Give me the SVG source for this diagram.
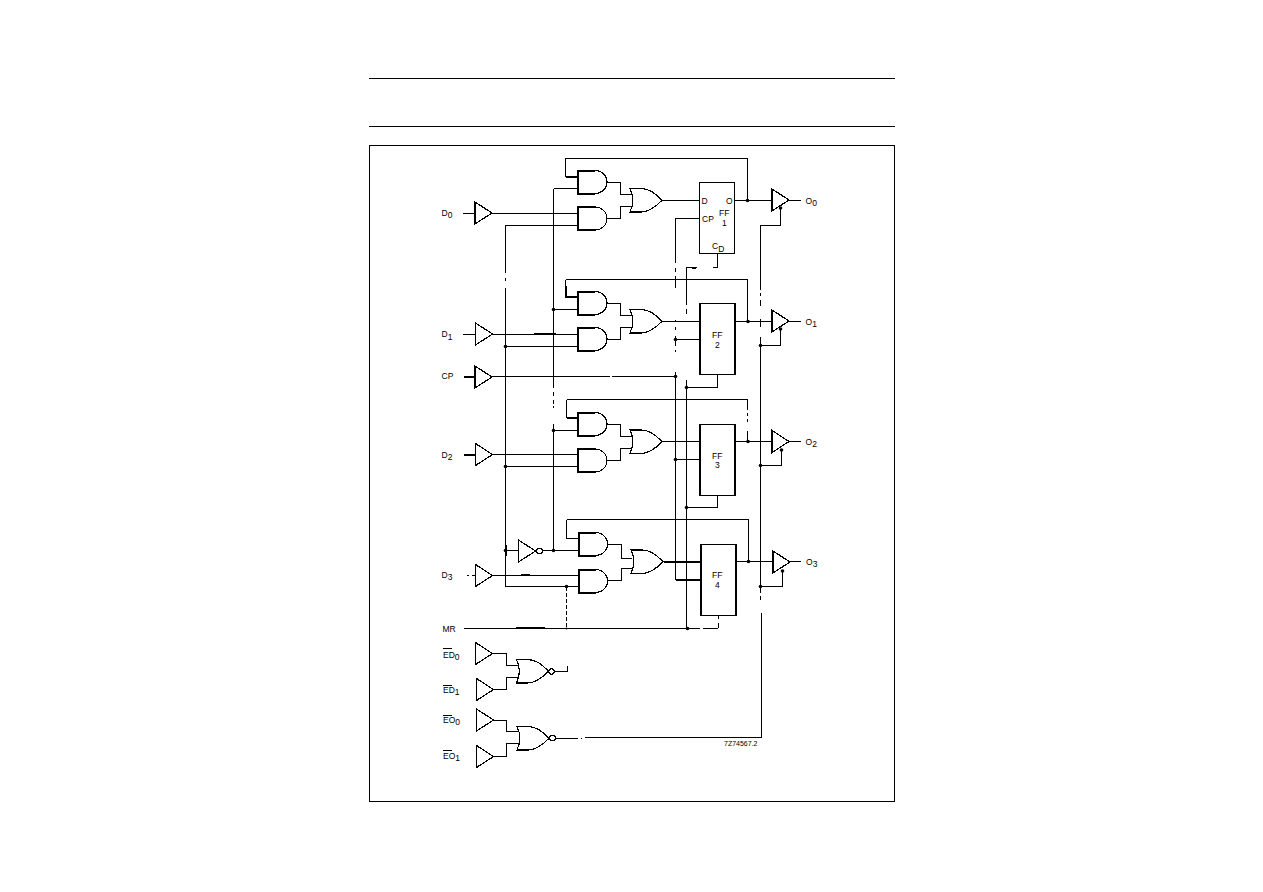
<svg xmlns="http://www.w3.org/2000/svg" xmlns:xlink="http://www.w3.org/1999/xlink" width="1263" height="892" viewBox="0 0 1263 892">
<style>
.s{fill:none;stroke:#000;stroke-width:1;shape-rendering:crispEdges}
.g{fill:#fff;stroke:#000;stroke-width:1.2;shape-rendering:crispEdges}
.f{fill:#fff;stroke:#000;stroke-width:1.6;shape-rendering:crispEdges}
.k{fill:none;stroke:#000;stroke-width:2;shape-rendering:crispEdges}
.d{fill:#000;stroke:none}
.h{stroke-dasharray:4 2}
text{font-family:"Liberation Sans",Arial,sans-serif;font-size:8.5px;fill:#000}
</style>
<defs>
<path id="and" d="M0 0H17A12 11.5 0 0 1 17 23H0Z"/>
<path id="andk" d="M0 0H17M0 0V23H17"/>
<path id="or" d="M0 0H11C19 0 26 5 32 11.8C26 18 19 23.5 11 23.5H0C3.5 16 3.5 7 0 0Z"/>
<polygon id="buf" points="0,0 17,11 0,22"/>
</defs>
<rect width="1263" height="892" fill="#fff"/>
<g id="page">
<path class="s" d="M369 78.5H895M369 126.5H895"/>
<rect class="s" x="369.5" y="145.5" width="525" height="656"/>
</g>
<g id="connectors">
<path class="s" d="M565.5 176.5V158.5H747.5V200.5M565.5 279.5H747.5V321.5M565.5 279.5V296.5M566.5 399.5H747.5V410M566.5 399.5V417.5M747.5 413V416M747.5 419V422M747.5 431V441.5M566.5 519.5H748.5V561.5M566.5 519.5V538.5H578"/>
<path class="k" d="M565.5 176.5H578M565.5 286V296.5H578M566.5 417.5H578"/>
<path class="s" d="M553.5 188.5H578M553.5 188.5V388M553.5 392V396M553.5 400V404M553.5 406V408M553.5 424V550M553.5 309.5H578M553.5 430.5H578"/>
<path class="s" d="M578 225.5H505.5V273M505.5 278V281M505.5 288V586.5H578M505.5 346.5H578M505.5 466.5H578M505.5 550.5H518"/>
<path class="k" d="M505.5 545V556"/>
<path class="s" d="M463 213.5H475M492 213.5H578M463 334.5H475M492 334H578M492 454.5H578M492 575.5H578M467 575.5H469M472 575.5H475M542 550.5H578"/>
<path class="k" d="M534 333.5H556M464 376.5H475M464 454.5H475M521 574.5H530"/>
<path class="s" d="M492 376.5H610M612 376H620M620 376.5H675.5"/>
<path class="s" d="M607 182H620V194H632M607 218H620V206.5H632M607 303H620V315H632M607 339H620V327.5H632M607 424H620V436H632M607 460H620V448H632M608 544H621V558H632M608 580H621V568H632"/>
<path class="s" d="M662 200.5H699M662 321.5H699M661 441.5H699"/>
<path class="k" d="M664 561.5H700"/>
<path class="s" d="M699 218.5H675.5V263M675.5 268V272M675.5 276V288M675.5 320V322M675.5 327V330M675.5 336V346M675.5 350V352M675.5 372V579.5"/>
<path class="k" d="M675.5 579.5H700"/>
<path class="s" d="M675.5 339.5H699M675.5 459.5H699"/>
<path class="s" d="M717.5 253V267H713M697 267.5H686.5V305M686.5 309V314M686.5 380V628M717.5 374V387.5H686.5M717.5 495V507.5H686.5M464 628.5H688M718 615V619M718 623V628M688 628H700M703 628H718"/>
<path class="k" d="M516 628H545M692 267.5H696"/>
<path class="s h" d="M566.5 587V628"/>
<path class="s" d="M734 200.5H772M789 200.5H801M735 321.5H772M789 321.5H801M735 441.5H772M789 441.5H801M736 561.5H773M790 561.5H801"/>
<path class="s" d="M780.5 208V225.5H760.5V290M760.5 293V296M760.5 300V306M760.5 319V327M760.5 337V593M760.5 596V600M761.5 613V737.5H585M581 738H582M575 738H578M556 738H575M760.5 345.5H780.5V328M760.5 465.5H781.5V450M760.5 586.5H782.5V572"/>
<path class="s" d="M493 653.5H506.5V665.5H518M493 689.5H506.5V677.5H518M555 671.5H567.5V666M493 720.5H506.5V731.5H519M493 756.5H506.5V743.5H519"/>
<g id="junctions">
<circle class="d" cx="747.5" cy="200.5" r="1.8"/><circle class="d" cx="553.5" cy="309.5" r="1.8"/><circle class="d" cx="505.5" cy="346.5" r="1.8"/>
<circle class="d" cx="748" cy="321.5" r="1.8"/><circle class="d" cx="675.5" cy="339.5" r="1.8"/><circle class="d" cx="675.5" cy="376.5" r="1.8"/>
<circle class="d" cx="686.5" cy="387.5" r="1.8"/><circle class="d" cx="760.5" cy="345.5" r="1.8"/><circle class="d" cx="553.5" cy="430.5" r="1.8"/>
<circle class="d" cx="505.5" cy="466.5" r="1.8"/><circle class="d" cx="675.5" cy="459.5" r="1.8"/><circle class="d" cx="748" cy="441.5" r="1.8"/>
<circle class="d" cx="760.5" cy="465.5" r="1.8"/><circle class="d" cx="686.5" cy="507.5" r="1.8"/><circle class="d" cx="505.5" cy="550.5" r="1.8"/>
<circle class="d" cx="553.5" cy="550.5" r="1.8"/><circle class="d" cx="566.5" cy="586.5" r="1.8"/><circle class="d" cx="748.5" cy="561.5" r="1.8"/>
<circle class="d" cx="760.5" cy="586.5" r="1.8"/><circle class="d" cx="687.5" cy="628.5" r="1.8"/><circle class="d" cx="566.5" cy="628.5" r="1"/>
<circle class="d" cx="780.5" cy="208" r="1.8"/><circle class="d" cx="780.5" cy="329" r="1.8"/><circle class="d" cx="781.5" cy="450" r="1.8"/><circle class="d" cx="782.5" cy="571" r="1.8"/>
</g>
</g>
<g id="and1a"><use href="#and" class="g" x="578" y="170.5"/><use href="#andk" class="k" x="578" y="170.5"/></g>
<g id="and1b"><use href="#and" class="g" x="578" y="207"/><use href="#andk" class="k" x="578" y="207"/></g>
<g id="and2a"><use href="#and" class="g" x="578" y="291.5"/><use href="#andk" class="k" x="578" y="291.5"/></g>
<g id="and2b"><use href="#and" class="g" x="578" y="327.5"/><use href="#andk" class="k" x="578" y="327.5"/></g>
<g id="and3a"><use href="#and" class="g" x="578" y="412.5"/><use href="#andk" class="k" x="578" y="412.5"/></g>
<g id="and3b"><use href="#and" class="g" x="578" y="449"/></g>
<g id="and4a"><use href="#and" class="g" x="578.5" y="532.5"/><use href="#andk" class="k" x="578.5" y="532.5"/></g>
<g id="and4b"><use href="#and" class="g" x="578.5" y="569.5"/><use href="#andk" class="k" x="578.5" y="569.5"/></g>
<g id="or1"><use href="#or" class="g" x="630" y="188.5"/></g>
<g id="or2"><use href="#or" class="g" x="630" y="309.5"/></g>
<g id="or3"><use href="#or" class="g" x="630" y="430"/></g>
<g id="or4"><use href="#or" class="g" x="631" y="550"/></g>
<g id="ff1"><rect class="s" x="699.5" y="182.5" width="35" height="71"/>
<text x="701.5" y="204">D</text><text x="726" y="204">O</text><text x="702" y="222">CP</text><text x="719" y="216">FF</text><text x="722" y="226">1</text><text x="712" y="249">C<tspan dy="3">D</tspan></text></g>
<g id="ff2"><rect class="f" x="700" y="303.5" width="35" height="71"/><text x="712" y="338">FF</text><text x="715" y="348">2</text></g>
<g id="ff3"><rect class="f" x="700" y="424.5" width="35" height="71"/><text x="712" y="459">FF</text><text x="715" y="468">3</text></g>
<g id="ff4"><rect class="f" x="701" y="544.5" width="35" height="71"/><text x="712" y="578">FF</text><text x="715" y="588">4</text></g>
<g id="d0buf"><use href="#buf" class="g" x="475" y="202"/></g>
<g id="d1buf"><use href="#buf" class="g" x="475.5" y="323"/></g>
<g id="cpbuf"><use href="#buf" class="g" x="475" y="366"/></g>
<g id="d2buf"><use href="#buf" class="g" x="475.5" y="443.5"/></g>
<g id="d3buf"><use href="#buf" class="g" x="475.5" y="564.5"/></g>
<g id="inv"><use href="#buf" class="g" x="518.5" y="540"/><circle class="g" cx="539.5" cy="551" r="2.8"/></g>
<g id="o0buf"><use href="#buf" class="g" x="772" y="189"/></g>
<g id="o1buf"><use href="#buf" class="g" x="772" y="310"/></g>
<g id="o2buf"><use href="#buf" class="g" x="772" y="430.5"/></g>
<g id="o3buf"><use href="#buf" class="g" x="773" y="551"/></g>
<g id="ed0buf"><use href="#buf" class="g" x="475.5" y="642.5"/></g>
<g id="ed1buf"><use href="#buf" class="g" x="476.5" y="678.5"/></g>
<g id="eo0buf"><use href="#buf" class="g" x="476.5" y="709"/></g>
<g id="eo1buf"><use href="#buf" class="g" x="476.5" y="745.5"/></g>
<g id="nor1"><use href="#or" class="g" x="516.5" y="659.5"/><circle class="g" cx="551.5" cy="671.5" r="2.8"/></g>
<g id="nor2"><use href="#or" class="g" x="517" y="726.5"/><circle class="g" cx="552.5" cy="738" r="2.8"/></g>
<g id="labels">
<text x="441.5" y="216">D<tspan dy="2">0</tspan></text>
<text x="441.5" y="337">D<tspan dy="3">1</tspan></text>
<text x="441.5" y="379">CP</text>
<text x="441.5" y="458">D<tspan dy="2">2</tspan></text>
<text x="441.5" y="578">D<tspan dy="2">3</tspan></text>
<text x="442.5" y="632">MR</text>
<text x="443" y="658">ED<tspan dy="2">0</tspan></text><path class="s" d="M443 648.5H452"/>
<text x="443" y="693">ED<tspan dy="2">1</tspan></text><path class="s" d="M443 685.5H452"/>
<text x="443" y="723">EO<tspan dy="2">0</tspan></text><path class="s" d="M443 715.5H452"/>
<text x="443" y="759">EO<tspan dy="2">1</tspan></text><path class="s" d="M443 750.5H452"/>
<text x="805.5" y="204">O<tspan dy="2">0</tspan></text>
<text x="805.5" y="325">O<tspan dy="2">1</tspan></text>
<text x="805.5" y="445">O<tspan dy="2">2</tspan></text>
<text x="806" y="565">O<tspan dy="2">3</tspan></text>
<text x="724" y="745.5" style="font-size:7px">7Z74567.2</text>
</g>
</svg>
